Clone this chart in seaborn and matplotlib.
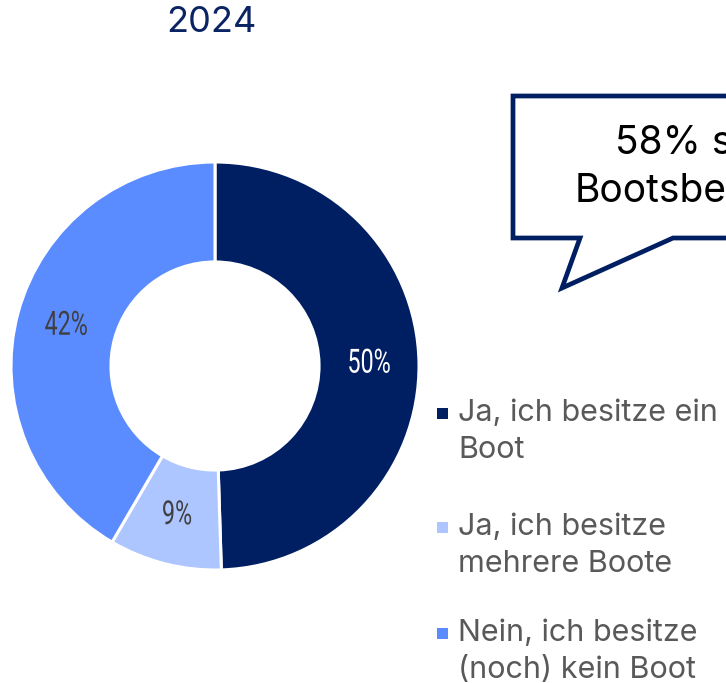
import numpy as np
import matplotlib
matplotlib.use("Agg")
import matplotlib.pyplot as plt
from matplotlib.patches import Polygon, Rectangle
from matplotlib.patheffects import AbstractPathEffect
from matplotlib.transforms import Affine2D
import seaborn as sns

# ---- data ----
categories = ["Ja, ich besitze ein\nBoot",
              "Ja, ich besitze\nmehrere Boote",
              "Nein, ich besitze\n(noch) kein Boot"]
values = [50, 9, 42]
value_labels = ["50%", "9%", "42%"]
title = "2024"
callout_lines = ["58% sind", "Bootsbesitzer"]

sns.set_theme(style="white")
plt.rcParams['font.family'] = ['Inter', 'DejaVu Sans']

colors = ["#001F63", "#ADC6FF", "#5B8CFF"]
label_colors = ["white", "#404040", "#404040"]


class Condense(AbstractPathEffect):
    """Horizontally compress text around its own centre (condensed look)."""
    def __init__(self, sx=0.75):
        super().__init__()
        self.sx = sx

    def draw_path(self, renderer, gc, tpath, affine, rgbFace=None):
        ext = tpath.get_extents(affine)
        c = (ext.x0 + ext.x1) / 2
        aff = affine + Affine2D().translate(-c, 0).scale(self.sx, 1).translate(c, 0)
        renderer.draw_path(gc, tpath, aff, rgbFace)


W, H = 726, 683
fig = plt.figure(figsize=(W / 100, H / 100), dpi=100)
fig.patch.set_facecolor("white")

def fx(x):
    return x / W

def fy(y):
    return 1 - y / H

cx, cy, R = 215, 366, 204
ax = fig.add_axes([fx(cx - R), fy(cy + R), 2 * R / W, 2 * R / H])

wedges, _ = ax.pie(values, colors=colors, startangle=90, counterclock=False,
                   radius=1.0,
                   wedgeprops=dict(width=0.49, edgecolor="white", linewidth=2.2))
ax.set_xlim(-1, 1)
ax.set_ylim(-1, 1)
ax.set_aspect("auto")
ax.axis("off")

# percentage labels placed at the middle of each ring segment
total = sum(values)
start = 90.0
r_lab = 0.755
for v, lab, col in zip(values, value_labels, label_colors):
    span = v / total * 360
    mid = start - span / 2
    start -= span
    a = np.deg2rad(mid)
    ax.text(r_lab * np.cos(a), r_lab * np.sin(a), lab, ha="center", va="center",
            color=col, fontsize=24, family=["Roboto", "DejaVu Sans"],
            path_effects=[Condense(0.7)])

# title
fig.text(fx(211), fy(23), title, ha="center", va="center", fontsize=26,
         color="#0A2463")

# callout box
pts = [(513, 96), (760, 96), (760, 238), (673, 238), (562, 288), (580, 238), (513, 238)]
poly = Polygon([(fx(x), fy(y)) for x, y in pts], closed=True, transform=fig.transFigure,
               facecolor="white", edgecolor="#001F63", linewidth=3.4, joinstyle="miter")
fig.patches.append(poly)
renderer = fig.canvas.get_renderer()
probe = fig.text(0, 0, callout_lines[1], fontsize=28)
w2 = probe.get_window_extent(renderer).width
probe.remove()
ccx = 575 + w2 / 2
for i, line in enumerate(callout_lines):
    fig.text(fx(ccx), fy(144 + i * 47), line, ha="center", va="center", fontsize=28,
             color="black")

# legend (manual)
leg_y = [413, 527, 633]
for cat, col, y in zip(categories, colors, leg_y):
    fig.patches.append(Rectangle((fx(437), fy(y + 6)), 11 / W, 11 / H,
                                 transform=fig.transFigure, facecolor=col, edgecolor="none"))
    for j, line in enumerate(cat.split("\n")):
        fig.text(fx(458), fy(y + j * 37), line, ha="left", va="center", fontsize=22,
                 color="#595959")

fig.savefig("out.png", dpi=100, facecolor="white")
